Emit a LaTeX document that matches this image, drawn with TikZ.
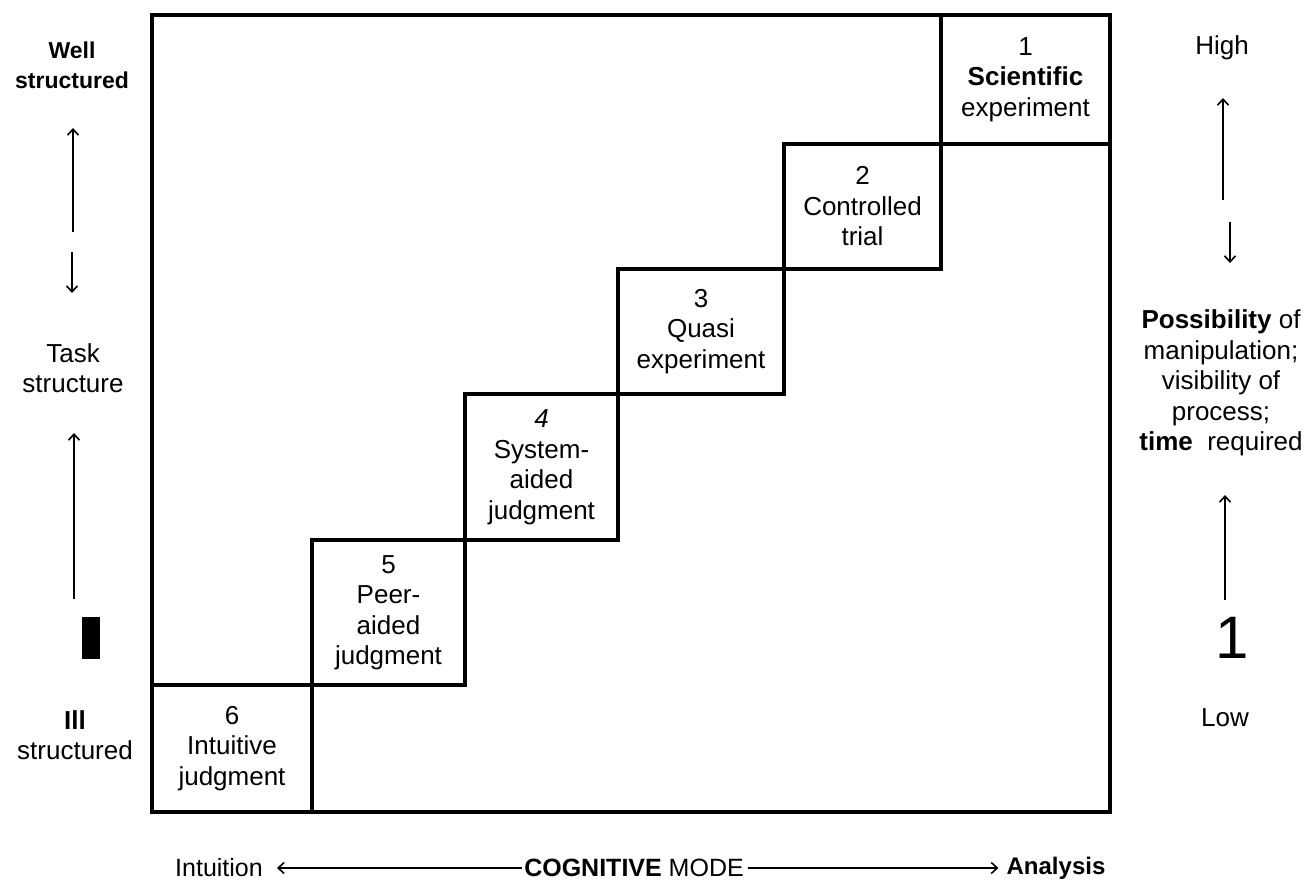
\documentclass[tikz,border=0pt]{standalone}
\usepackage{fontspec}
\setmainfont{Liberation Sans}
\usepackage{tikz}
\usetikzlibrary{arrows.meta}

\tikzset{
  lbl/.style={align=center, inner sep=0pt, font=\fontsize{26}{30.5}\selectfont},
  stepbox/.style={draw, line width=3.5pt, inner sep=0pt, outer sep=0pt, align=center,
    font=\fontsize{26}{30.5}\selectfont},
  axis/.style={line width=2pt, ->}
}

\begin{document}
\begin{tikzpicture}[x=1pt, y=-1pt, >={Straight Barb[length=6pt,width=11pt,line width=1.6pt]}]
  \useasboundingbox (0,0) rectangle (1305,881);
  \draw[line width=3.5pt] (152,15) rectangle (1110,812);

  % the six steps, from analysis down to intuition
  \node[stepbox, minimum width=169pt, minimum height=129pt] (b1) at (1025.5,79.5)
    {1\\\textbf{Scientific}\\experiment};
  \node[stepbox, minimum width=157pt, minimum height=125pt] (b2) at (862.5,206.5)
    {2\\Controlled\\trial};
  \node[stepbox, minimum width=166pt, minimum height=125pt] (b3) at (701,331.5)
    {3\\Quasi\\experiment};
  \node[stepbox, minimum width=153pt, minimum height=146pt] (b4) at (541.5,467)
    {\textit{4}\\System-\\aided\\judgment};
  \node[stepbox, minimum width=153pt, minimum height=145pt] (b5) at (388.5,612.5)
    {5\\Peer-\\aided\\judgment};
  \node[stepbox, minimum width=160pt, minimum height=127pt] (b6) at (232,748.5)
    {6\\Intuitive\\judgment};

  % task structure
  \node[lbl, font=\bfseries\fontsize{23}{30}\selectfont] (well) at (72,65) {Well\\structured};
  \node[lbl] (task) at (73,368) {Task\\structure};
  \node[lbl] (ill) at (75,735) {\textbf{Ill}\\structured};
  \coordinate (wl1) at (73,232);
  \coordinate (wl2) at (72,252);
  \coordinate (wl3) at (74,599);
  \draw[axis] (wl1) -- (73,128);
  \draw[axis] (wl2) -- (72,293);
  \draw[axis] (wl3) -- (74,433);
  \fill (82,617) rectangle (100,659);

  % possibility of manipulation
  \node[lbl] (high) at (1222,48) {High};
  \node[lbl] (poss) at (1221,383)
    {\textbf{Possibility} of\\manipulation;\\visibility of\\process;\\\textbf{time}\ \ required};
  \node[lbl, font=\fontsize{60}{60}\selectfont] (one) at (1232,638) {1};
  \node[lbl] (low) at (1225,718) {Low};
  \coordinate (hr1) at (1223,200);
  \coordinate (hr2) at (1230,222);
  \coordinate (hr3) at (1225,600);
  \draw[axis] (hr1) -- (1223,98);
  \draw[axis] (hr2) -- (1230,263);
  \draw[axis] (hr3) -- (1225,495);

  % cognitive mode
  \node[lbl, font=\fontsize{25}{30}\selectfont] (intu) at (219,868) {Intuition};
  \node[lbl, font=\fontsize{25}{30}\selectfont] (mode) at (634,868) {\textbf{COGNITIVE} MODE};
  \node[lbl, font=\bfseries\fontsize{24}{30}\selectfont] (anal) at (1056,868) {Analysis};
  \draw[axis] ([xshift=-2pt]mode.west) -- ([xshift=14pt]intu.east);
  \draw[axis] ([xshift=4pt]mode.east) -- ([xshift=-8pt]anal.west);
\end{tikzpicture}
\end{document}
